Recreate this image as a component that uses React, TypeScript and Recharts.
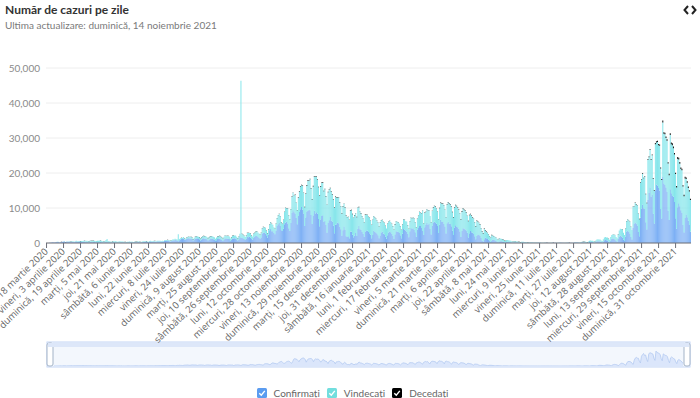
import React from "react";
import {
  BarChart,
  Bar,
  XAxis,
  YAxis,
  CartesianGrid,
  Brush,
  AreaChart,
  Area,
  Legend,
} from "recharts";

// first day on the axis: miercuri, 18 martie 2020 (one value per day after that)
const startYear = 2020;
const startMonth = 2;
const startDay = 18;

const weekdays = ["duminică", "luni", "marți", "miercuri", "joi", "vineri", "sâmbătă"];
const months = [
  "ianuarie", "februarie", "martie", "aprilie", "mai", "iunie",
  "iulie", "august", "septembrie", "octombrie", "noiembrie", "decembrie",
];

const yTicks = [0, 10000, 20000, 30000, 40000, 50000];

// one row per week, Wednesday -> Tuesday
const confirmati = [
  25, 31, 31, 59, 66, 143, 186,
  144, 123, 263, 308, 293, 143, 249,
  290, 330, 350, 440, 190, 330, 360,
  325, 360, 310, 370, 305, 240, 340,
  410, 320, 270, 410, 310, 300, 350,
  380, 370, 230, 310, 190, 250, 380,
  260, 250, 320, 260, 220, 200, 230,
  230, 250, 320, 240, 190, 170, 230,
  270, 210, 190, 190, 150, 110, 160,
  180, 150, 160, 130, 110, 100, 130,
  140, 200, 170, 150, 120, 100, 120,
  150, 160, 190, 170, 150, 110, 180,
  190, 210, 250, 260, 220, 140, 230,
  320, 290, 330, 310, 260, 200, 330,
  460, 340, 320, 460, 390, 280, 420,
  440, 420, 460, 390, 410, 350, 560,
  550, 610, 680, 660, 520, 420, 600,
  770, 710, 890, 760, 700, 510, 820,
  1030, 1110, 1120, 1280, 960, 900, 1150,
  1350, 1350, 1210, 1300, 1150, 680, 1000,
  1240, 1270, 1340, 1150, 1100, 730, 1000,
  1270, 1350, 1240, 1150, 1080, 720, 960,
  1250, 1180, 1180, 1080, 1000, 590, 820,
  1150, 1140, 1200, 1050, 900, 580, 970,
  1310, 1290, 1250, 1200, 1150, 600, 900,
  1290, 1320, 1370, 1280, 1060, 690, 1000,
  1710, 1430, 1500, 1340, 1130, 850, 1140,
  1770, 1640, 1760, 1500, 1170, 940, 1470,
  1760, 1980, 2000, 1730, 1530, 1230, 1590,
  2740, 2960, 2880, 2700, 2220, 1590, 2450,
  3620, 4030, 3330, 3380, 2880, 2520, 3510,
  4850, 5340, 5880, 4840, 3620, 3410, 4060,
  5340, 5810, 6100, 5600, 4230, 3430, 5730,
  8650, 9330, 8780, 8440, 7110, 5360, 7730,
  8880, 9620, 10270, 9490, 8430, 4850, 7280,
  8990, 9150, 9490, 9390, 7990, 5460, 7850,
  9190, 8430, 8770, 8370, 6850, 4810, 6680,
  7750, 7940, 6000, 6280, 5120, 2930, 5770,
  6530, 7560, 6340, 6080, 4960, 2800, 5240,
  5380, 5830, 5650, 4620, 3900, 2060, 3630,
  4680, 3800, 1950, 1730, 1910, 1340, 3290,
  3190, 2330, 1650, 2090, 2840, 1990, 4040,
  4940, 3910, 3760, 3160, 2650, 1760, 3230,
  3430, 3500, 3120, 2820, 2360, 1340, 2270,
  3470, 3200, 3020, 2680, 2180, 1330, 2130,
  2990, 3180, 2670, 2530, 1890, 1210, 2200,
  2990, 3280, 3070, 2640, 2070, 1120, 2420,
  3340, 3210, 3160, 2840, 2230, 1350, 2610,
  3990, 3820, 3590, 3220, 2590, 1610, 3330,
  4320, 4020, 4210, 3790, 3040, 1760, 3840,
  4300, 4880, 4870, 4280, 3430, 2280, 4500,
  5250, 5760, 5190, 5560, 4080, 2460, 4940,
  5880, 6060, 5700, 5490, 4830, 2830, 5230,
  6650, 6030, 6110, 5480, 4690, 2680, 5640,
  6100, 5500, 5400, 4800, 3600, 2300, 4400,
  5100, 4600, 4500, 4050, 3300, 1750, 3450,
  4250, 4100, 3860, 3600, 2900, 1600, 2800,
  3400, 3100, 2900, 2600, 1900, 1050, 2100,
  2400, 2300, 2100, 1400, 750, 450, 1100,
  1500, 1350, 1150, 950, 600, 300, 750,
  900, 850, 760, 600, 380, 180, 450,
  520, 480, 430, 360, 220, 110, 280,
  330, 300, 270, 220, 140, 70, 180,
  180, 170, 150, 120, 80, 40, 100,
  130, 140, 110, 95, 65, 30, 60,
  90, 80, 70, 55, 40, 20, 40,
  60, 55, 45, 40, 30, 15, 25,
  50, 55, 45, 40, 25, 10, 30,
  60, 55, 50, 45, 30, 15, 40,
  75, 70, 60, 50, 35, 15, 45,
  85, 90, 80, 70, 45, 20, 60,
  120, 140, 130, 110, 70, 35, 90,
  190, 180, 170, 150, 90, 50, 140,
  300, 330, 300, 260, 170, 90, 280,
  480, 520, 470, 410, 260, 140, 450,
  780, 830, 760, 680, 420, 230, 740,
  1190, 1290, 1150, 1030, 640, 360, 1150,
  1760, 2040, 1890, 1580, 1020, 560, 1870,
  3200, 3510, 3250, 2700, 1680, 990, 4380,
  5480, 5850, 5520, 4990, 3150, 1920, 7220,
  9890, 10920, 9900, 9790, 5950, 3850, 12320,
  14270, 15830, 13230, 13880, 8390, 5550, 15040,
  16740, 16380, 15730, 15020, 9690, 6990, 18860,
  17000, 16540, 15870, 14630, 9240, 6590, 15330,
  14240, 13460, 13190, 11690, 7100, 4040, 10210,
  11380, 10470, 9350, 8670, 5160, 2990, 7130,
  8120, 7380, 6340, 5130, 3190,
];

const vindecati = [
  0, 2, 3, 5, 4, 8, 10,
  15, 20, 10, 25, 30, 20, 30,
  30, 40, 60, 35, 50, 80, 70,
  90, 110, 140, 130, 160, 120, 170,
  200, 180, 220, 170, 210, 250, 230,
  260, 300, 240, 310, 350, 280, 330,
  400, 350, 420, 380, 300, 360, 410,
  380, 440, 420, 350, 300, 290, 320,
  600, 900, 390, 300, 280, 250, 300,
  320, 280, 350, 290, 260, 310, 340,
  300, 250, 280, 230, 200, 210, 260,
  220, 260, 190, 210, 180, 170, 230,
  200, 180, 240, 190, 170, 150, 200,
  190, 210, 170, 220, 180, 160, 210,
  200, 160, 180, 150, 210, 170, 190,
  190, 220, 170, 200, 240, 210, 230,
  230, 250, 200, 210, 270, 240, 260,
  280, 300, 320, 290, 300, 2000, 310,
  320, 350, 380, 400, 340, 300, 420,
  430, 460, 500, 520, 450, 400, 480,
  550, 600, 580, 620, 560, 500, 640,
  620, 680, 700, 750, 600, 580, 700,
  700, 760, 720, 680, 640, 600, 730,
  740, 780, 800, 760, 700, 650, 800,
  760, 820, 780, 830, 700, 660, 750,
  800, 830, 760, 850, 720, 680, 780,
  900, 44900, 1100, 1050, 900, 850, 1000,
  1100, 1200, 1150, 1250, 1000, 900, 1150,
  1200, 1300, 1350, 1250, 1150, 1050, 1300,
  1400, 1600, 1500, 1700, 1300, 1200, 1500,
  1700, 1900, 2100, 1800, 1600, 1500, 2000,
  2200, 2500, 2400, 2700, 2300, 2000, 2500,
  3500, 4200, 3800, 4300, 3600, 3200, 3900,
  4500, 5000, 4700, 5300, 4400, 4000, 5200,
  5800, 6500, 6200, 6800, 5900, 5400, 6700,
  7400, 8600, 8200, 8800, 7600, 7000, 8300,
  9800, 10400, 10200, 9700, 9100, 8600, 9400,
  9400, 9300, 8800, 9100, 8200, 7900, 8700,
  8600, 8100, 8300, 7800, 7400, 7200, 7900,
  7500, 7200, 7400, 6900, 6600, 6300, 6800,
  6500, 6300, 5800, 5600, 5500, 5200, 6000,
  6200, 5900, 5500, 5800, 5600, 5400, 6000,
  5300, 5000, 4700, 4500, 4300, 4100, 4800,
  4700, 4500, 4300, 4400, 4000, 3800, 4300,
  4200, 4100, 3900, 3700, 3600, 3400, 3800,
  3500, 3400, 3300, 3200, 3000, 2900, 3300,
  3100, 3000, 2900, 2800, 2700, 2600, 2900,
  2800, 2900, 2800, 2700, 2500, 2400, 2700,
  2700, 2800, 2600, 2900, 2500, 2400, 2800,
  2900, 3000, 3100, 3200, 2800, 2700, 3100,
  3500, 4000, 3800, 4200, 5800, 3300, 4100,
  3600, 3900, 4100, 3800, 3600, 3400, 4200,
  4200, 4500, 4600, 4300, 4100, 3900, 4700,
  4800, 5200, 5100, 5300, 4800, 4600, 5300,
  5500, 5800, 5600, 5500, 5200, 5000, 5600,
  5700, 5900, 5500, 5400, 5100, 4900, 5500,
  5600, 5300, 5400, 5100, 4800, 4600, 5100,
  4800, 4600, 4400, 4300, 4000, 3700, 4200,
  3600, 3400, 3200, 2800, 2500, 2300, 2900,
  2100, 1900, 1700, 1500, 1300, 1200, 1500,
  1200, 1100, 1000, 900, 800, 700, 850,
  750, 700, 650, 600, 520, 480, 560,
  500, 460, 420, 390, 350, 320, 380,
  340, 310, 290, 260, 230, 210, 250,
  220, 200, 180, 170, 150, 140, 160,
  150, 140, 120, 110, 100, 90, 110,
  100, 90, 80, 75, 70, 60, 70,
  70, 65, 60, 55, 50, 45, 55,
  55, 50, 45, 40, 40, 35, 45,
  45, 40, 35, 30, 28, 25, 30,
  30, 28, 25, 22, 20, 18, 22,
  60, 80, 90, 110, 100, 120, 150,
  180, 210, 220, 260, 220, 200, 260,
  350, 380, 360, 400, 320, 300, 400,
  500, 560, 540, 600, 480, 450, 620,
  780, 850, 820, 900, 750, 700, 950,
  1100, 1200, 1150, 1300, 1050, 1000, 1300,
  1800, 2000, 2100, 2300, 1900, 1700, 2200,
  3000, 3200, 3100, 3400, 2900, 2700, 6000,
  5000, 5600, 5500, 5800, 5200, 4900, 10000,
  8200, 8900, 8600, 9200, 8000, 7500, 11500,
  10200, 10800, 10500, 11200, 9900, 9300, 13200,
  12000, 12500, 12200, 12800, 11600, 11000, 15600,
  14200, 14500, 14100, 14600, 13500, 12800, 15500,
  14000, 14500, 13900, 13600, 12600, 11800, 13800,
  12500, 12200, 11800, 12100, 11000, 10400, 11300,
  10200, 9800, 9400, 9600, 9100,
];

const decedati = [
  0, 0, 1, 2, 2, 4, 5,
  3, 6, 5, 9, 8, 6, 14,
  12, 16, 15, 20, 11, 18, 22,
  20, 19, 25, 23, 20, 13, 20,
  18, 24, 29, 21, 19, 17, 22,
  20, 25, 18, 22, 14, 17, 24,
  21, 17, 19, 15, 13, 16, 15,
  14, 12, 17, 13, 10, 11, 15,
  12, 11, 10, 9, 7, 8, 14,
  10, 9, 8, 6, 5, 7, 11,
  9, 10, 7, 6, 4, 6, 8,
  8, 7, 9, 6, 5, 7, 10,
  9, 11, 8, 10, 7, 9, 13,
  12, 14, 11, 13, 10, 9, 15,
  16, 19, 15, 14, 12, 13, 20,
  18, 20, 22, 17, 14, 16, 24,
  21, 25, 23, 20, 18, 19, 27,
  24, 22, 28, 25, 21, 20, 30,
  29, 32, 27, 30, 24, 26, 38,
  35, 39, 33, 31, 28, 30, 42,
  40, 44, 38, 36, 30, 33, 46,
  42, 45, 40, 37, 31, 34, 48,
  44, 47, 41, 39, 33, 36, 50,
  42, 46, 40, 38, 34, 35, 49,
  45, 48, 43, 40, 35, 38, 52,
  47, 50, 45, 42, 36, 39, 55,
  48, 52, 46, 44, 38, 41, 57,
  50, 54, 48, 46, 40, 43, 60,
  55, 58, 52, 50, 44, 47, 65,
  60, 64, 58, 55, 48, 52, 72,
  68, 72, 65, 62, 54, 58, 80,
  78, 82, 75, 70, 62, 66, 92,
  90, 95, 86, 80, 72, 76, 106,
  120, 125, 114, 106, 96, 101, 140,
  150, 155, 142, 133, 120, 126, 175,
  165, 170, 156, 146, 132, 139, 192,
  170, 175, 160, 150, 136, 143, 198,
  160, 164, 150, 141, 128, 134, 186,
  145, 149, 136, 128, 116, 122, 169,
  130, 134, 122, 115, 104, 109, 152,
  115, 118, 108, 101, 92, 97, 134,
  100, 103, 94, 88, 80, 84, 117,
  95, 98, 90, 84, 76, 80, 111,
  88, 91, 83, 78, 70, 74, 103,
  80, 83, 76, 71, 64, 67, 94,
  72, 74, 68, 64, 58, 60, 84,
  65, 67, 61, 58, 52, 54, 76,
  60, 62, 57, 53, 48, 50, 70,
  62, 64, 59, 55, 50, 52, 72,
  68, 70, 64, 60, 55, 57, 79,
  75, 78, 71, 67, 60, 63, 88,
  85, 88, 80, 75, 68, 71, 99,
  100, 104, 95, 89, 80, 84, 117,
  120, 124, 113, 106, 96, 101, 140,
  140, 145, 132, 124, 112, 118, 164,
  155, 160, 146, 137, 124, 130, 181,
  150, 155, 141, 133, 120, 126, 175,
  135, 139, 127, 119, 108, 113, 157,
  110, 113, 103, 97, 88, 92, 128,
  85, 88, 80, 75, 68, 71, 99,
  60, 62, 57, 53, 48, 50, 70,
  40, 41, 38, 35, 32, 33, 46,
  28, 29, 26, 25, 22, 23, 32,
  18, 19, 17, 16, 14, 15, 21,
  12, 12, 11, 10, 9, 10, 14,
  8, 8, 7, 7, 6, 6, 9,
  6, 6, 5, 5, 4, 5, 7,
  4, 4, 4, 3, 3, 3, 5,
  3, 3, 3, 3, 2, 2, 4,
  3, 3, 2, 2, 2, 2, 3,
  3, 3, 3, 2, 2, 2, 4,
  4, 4, 3, 3, 3, 3, 5,
  5, 5, 4, 4, 4, 4, 6,
  7, 7, 6, 6, 5, 5, 9,
  10, 10, 9, 9, 8, 8, 13,
  16, 17, 15, 14, 13, 13, 21,
  25, 26, 23, 22, 20, 21, 32,
  40, 41, 37, 35, 32, 33, 52,
  60, 62, 57, 53, 48, 50, 78,
  95, 98, 90, 84, 76, 80, 124,
  150, 155, 142, 133, 120, 126, 196,
  240, 248, 227, 213, 192, 202, 313,
  350, 361, 331, 311, 280, 294, 574,
  450, 465, 426, 400, 360, 378, 520,
  490, 506, 464, 435, 392, 412, 560,
  460, 475, 436, 409, 368, 387, 526,
  420, 434, 398, 373, 336,
];

const FONT = "Lato, 'Open Sans', sans-serif";
const TICK_FONT = "'Open Sans', Lato, sans-serif";
const BLUE = "#7db0f5";
const CYAN = "#86e6eb";
const BLACK = "#111";

const dayLabel = (i: number) => {
  const d = new Date(Date.UTC(startYear, startMonth, startDay + i));
  return `${weekdays[d.getUTCDay()]}, ${d.getUTCDate()} ${months[d.getUTCMonth()]} ${d.getUTCFullYear()}`;
};

const data = confirmati.map((c, i) => ({
  day: dayLabel(i),
  confirmati: c,
  vindecati: vindecati[i],
  decedati: decedati[i],
}));

const legendItems = [
  { name: "Confirmați", color: "#5b9cf0" },
  { name: "Vindecați", color: "#72dede" },
  { name: "Decedați", color: "#000" },
];

const DayTick = (props: any) => {
  const { x, y, payload } = props;
  return (
    <text
      x={x}
      y={y}
      dy={3}
      transform={`rotate(-44, ${x}, ${y})`}
      textAnchor="end"
      fontSize={9.5}
      fill="#666"
      fontFamily={TICK_FONT}
    >
      {payload.value}
    </text>
  );
};

const Traveller = (props: any) => {
  const { x, y, width, height } = props;
  return (
    <rect
      x={x}
      y={y + 1}
      width={width}
      height={height - 2}
      rx={2}
      fill="#fff"
      stroke="#a3b3c7"
      strokeWidth={1}
    />
  );
};

const LegendContent = () => (
  <div
    style={{
      display: "flex",
      justifyContent: "center",
      alignItems: "center",
      height: 16,
      paddingLeft: 14,
      fontFamily: FONT,
      fontSize: 10,
      color: "#666",
    }}
  >
    {legendItems.map((item) => (
      <span
        key={item.name}
        style={{ display: "flex", alignItems: "center", margin: "0 3.5px" }}
      >
        <svg width={10} height={10} style={{ marginRight: 7 }}>
          <rect x={0} y={0} width={10} height={10} rx={1.5} fill={item.color} />
          <path
            d="M2.3 5.2 L4.3 7.3 L7.8 2.9"
            stroke="#fff"
            strokeWidth={1.4}
            fill="none"
          />
        </svg>
        {item.name}
      </span>
    ))}
  </div>
);

export default function App() {
  return (
    <div
      style={{
        position: "absolute",
        left: 0,
        top: 0,
        width: 700,
        height: 398,
        background: "#fff",
        fontFamily: FONT,
        overflow: "hidden",
      }}
    >
      <div style={{ position: "absolute", left: 0, top: 0 }}>
        <BarChart
          width={700}
          height={398}
          data={data}
          margin={{ top: 68, right: 9, bottom: 0, left: 0 }}
          barCategoryGap={0}
          barGap={0}
        >
          <CartesianGrid vertical={false} stroke="#eeeeee" />
          <XAxis
            dataKey="day"
            interval={15}
            height={114}
            tick={<DayTick />}
            tickSize={5}
            tickMargin={2}
            axisLine={{ stroke: "#6E7079" }}
            tickLine={{ stroke: "#6E7079" }}
          />
          <YAxis
            domain={[0, 50000]}
            ticks={yTicks}
            width={46}
            axisLine={false}
            tickLine={false}
            tickMargin={0}
            tick={{ fill: "#8a8a8a", fontSize: 10, fontFamily: FONT }}
            tickFormatter={(v: number) => v.toLocaleString("en-US")}
          />
          <Bar dataKey="confirmati" stackId="a" fill={BLUE} isAnimationActive={false} />
          <Bar dataKey="vindecati" stackId="a" fill={CYAN} isAnimationActive={false} />
          <Bar dataKey="decedati" stackId="a" fill={BLACK} isAnimationActive={false} />
          <Brush
            dataKey="day"
            x={47}
            y={342}
            width={643}
            height={25}
            travellerWidth={6}
            stroke="#c3d5f5"
            fill="#fff"
            traveller={Traveller}
          />
          <Legend
            content={<LegendContent />}
            verticalAlign="bottom"
            height={16}
            wrapperStyle={{ bottom: -3 }}
          />
        </BarChart>
      </div>
      {/* top band of the zoom slider */}
      <div
        style={{
          position: "absolute",
          left: 48,
          top: 343,
          width: 641,
          height: 4,
          background: "#dde7f9",
        }}
      />
      {/* panorama of the confirmed series inside the zoom slider */}
      <div style={{ position: "absolute", left: 54, top: 347, pointerEvents: "none" }}>
        <AreaChart
          width={629}
          height={19}
          data={data}
          margin={{ top: 0, right: 0, bottom: 0, left: 0 }}
        >
          <YAxis hide domain={[0, 24000]} />
          <XAxis hide dataKey="day" />
          <Area
            dataKey="confirmati"
            stroke="#b4caf1"
            strokeWidth={0.8}
            fill="#dbe6fb"
            fillOpacity={1}
            dot={false}
            isAnimationActive={false}
          />
        </AreaChart>
      </div>
      <div
        style={{
          position: "absolute",
          left: 5,
          top: 2,
          fontSize: 12,
          fontWeight: 700,
          color: "#333",
        }}
      >
        Număr de cazuri pe zile
      </div>
      <div
        style={{
          position: "absolute",
          left: 5,
          top: 19,
          fontSize: 10,
          color: "#7a7a7a",
        }}
      >
        Ultima actualizare: duminică, 14 noiembrie 2021
      </div>
      <svg
        width={14}
        height={10}
        style={{ position: "absolute", left: 683, top: 5 }}
      >
        <path d="M5 1 L1.5 5 L5 9" stroke="#222" strokeWidth={2} fill="none" />
        <path d="M9 1 L12.5 5 L9 9" stroke="#222" strokeWidth={2} fill="none" />
      </svg>
    </div>
  );
}
